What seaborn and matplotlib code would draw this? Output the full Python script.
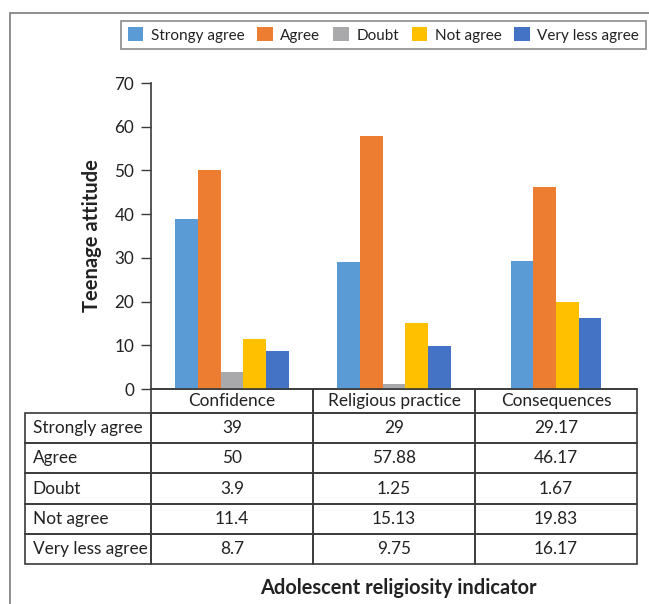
import numpy as np
import pandas as pd
import seaborn as sns
import matplotlib
matplotlib.use("Agg")
import matplotlib.pyplot as plt
from matplotlib.patches import Patch, Rectangle
from matplotlib.table import Table

# ---- data -------------------------------------------------------------
categories = ["Confidence", "Religious practice", "Consequences"]
legend_labels = ["Strongy agree", "Agree", "Doubt", "Not agree", "Very less agree"]
row_labels = ["Strongly agree", "Agree", "Doubt", "Not agree", "Very less agree"]

strongly_agree = [39, 29, 29.17]
agree = [50, 57.88, 46.17]
doubt = [3.9, 1.25, 1.67]
not_agree = [11.4, 15.13, 19.83]
very_less_agree = [8.7, 9.75, 16.17]

# the Doubt bar of the Consequences group is left out of the chart
omitted_bars = [("Doubt", "Consequences")]

colors = ["#5B9BD5", "#ED7D31", "#A9A9AB", "#FFC000", "#4472C4"]

series_values = [strongly_agree, agree, doubt, not_agree, very_less_agree]

# ---- long-form table with bar positions --------------------------------
bar_w = 0.14
records = []
for ci, cat in enumerate(categories):
    present = [si for si, name in enumerate(legend_labels)
               if (name, cat) not in omitted_bars]
    n = len(present)
    for k, si in enumerate(present):
        records.append({
            "pos": ci + (k - (n - 1) / 2) * bar_w,
            "value": series_values[si][ci],
            "series": legend_labels[si],
        })
df = pd.DataFrame(records)

# ---- figure -------------------------------------------------------------
sns.set_theme(style="white")
plt.rcParams["font.family"] = ["Lato", "DejaVu Sans"]
text_color = "#222222"
line_color = "#3a3a3a"

W, H = 649, 604
fig = plt.figure(figsize=(W / 100, H / 100), dpi=100)
fig.patch.set_facecolor("white")

ax_l, ax_r, ax_t, ax_b = 151, 637, 83, 389
ax = fig.add_axes([ax_l / W, 1 - ax_b / H, (ax_r - ax_l) / W, (ax_b - ax_t) / H])

sns.barplot(data=df, x="pos", y="value", hue="series", hue_order=legend_labels,
            palette=colors, native_scale=True, dodge=False, width=1.0,
            errorbar=None, saturation=1, legend=False, ax=ax, linewidth=0)

ax.set_xlim(-0.5, len(categories) - 0.5)
ax.set_ylim(0, 70)
ax.set_yticks(np.arange(0, 71, 10))
ax.set_xticks([])
ax.set_xlabel("")
ax.set_ylabel("Teenage attitude", fontsize=14.5, fontweight="bold",
              color=text_color, labelpad=9)
ax.tick_params(axis="y", which="major", left=True, length=7, width=1,
               color=line_color, labelsize=12.3, labelcolor=text_color, pad=5)
for side in ("top", "right"):
    ax.spines[side].set_visible(False)
for side in ("left", "bottom"):
    ax.spines[side].set_color(line_color)
    ax.spines[side].set_linewidth(1.2)

# ---- data table under the axis ------------------------------------------
tbl_left, tbl_bottom = 25, 564
col_px = [ax_l - tbl_left] + [(ax_r - ax_l) / len(categories)] * len(categories)
row_px = [24] + [30] * len(row_labels)
tbl = Table(ax, bbox=[(tbl_left - ax_l) / (ax_r - ax_l),
                      -(tbl_bottom - ax_b) / (ax_b - ax_t),
                      (ax_r - tbl_left) / (ax_r - ax_l),
                      (tbl_bottom - ax_b) / (ax_b - ax_t)])
tbl.auto_set_font_size(False)

def fmt(v):
    return f"{v:g}"

for c, cat in enumerate(categories, start=1):
    cell = tbl.add_cell(0, c, width=col_px[c], height=row_px[0], text=cat, loc="center")
for r, (lab, vals) in enumerate(zip(row_labels, series_values), start=1):
    cell = tbl.add_cell(r, 0, width=col_px[0], height=row_px[r], text=lab, loc="left")
    cell.PAD = 0.06
    for c in range(1, len(categories) + 1):
        tbl.add_cell(r, c, width=col_px[c], height=row_px[r], text=fmt(vals[c - 1]), loc="center")
for cell in tbl.get_celld().values():
    cell.set_edgecolor(line_color)
    cell.set_linewidth(1.2)
    cell.set_facecolor("none")
    cell.get_text().set_fontsize(12.4)
    cell.get_text().set_color(text_color)
tbl.set_clip_on(False)
ax.add_table(tbl)

# ---- legend -------------------------------------------------------------
handles = [Patch(facecolor=c, edgecolor="none", label=l) for c, l in zip(colors, legend_labels)]
leg = fig.legend(handles=handles, loc="center", ncol=5,
                 bbox_to_anchor=((122 + 645) / 2 / W, 1 - 35 / H),
                 fontsize=11, frameon=True, fancybox=False, borderpad=0.45,
                 handlelength=1.0, handleheight=1.0, handletextpad=0.5,
                 columnspacing=0.85, borderaxespad=0)
leg.get_frame().set_edgecolor("#6e6e6e")
leg.get_frame().set_linewidth(1.2)
for t in leg.get_texts():
    t.set_color(text_color)

# ---- x-axis title and outer frame ----------------------------------------
fig.text(398 / W, 1 - 588 / H, "Adolescent religiosity indicator", ha="center", va="center",
         fontsize=14.4, fontweight="bold", color=text_color)
fig.add_artist(Rectangle((9.5 / W, -0.05), 1.2, 1.05 - 12.5 / H,
                         transform=fig.transFigure, fill=False,
                         edgecolor="#7a7a7a", linewidth=1.2))

fig.savefig("out.png", dpi=100, facecolor="white")
